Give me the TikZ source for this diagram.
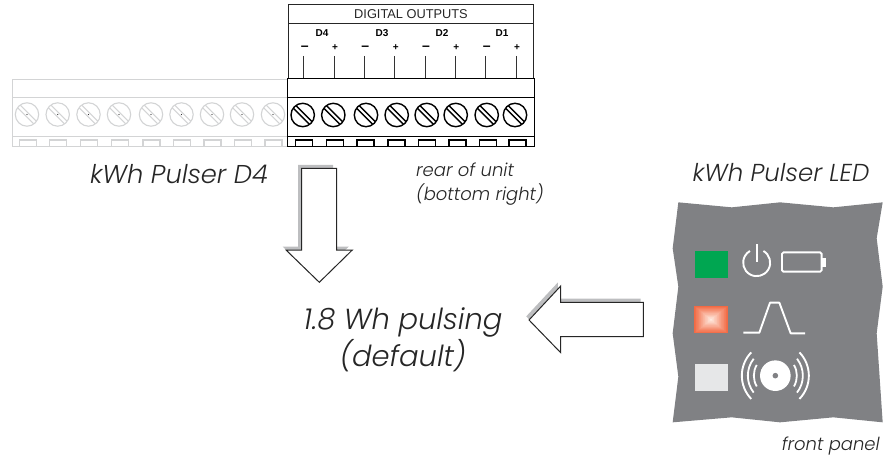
\documentclass[tikz,border=0pt]{standalone}
\usepackage{fontspec}
\setmainfont{Poppins}[ItalicFont={Poppins Light Italic}]
\newfontfamily\arialf{Liberation Sans}
\definecolor{panelgrey}{HTML}{808184}
\definecolor{fadegrey}{HTML}{D3D4D5}
\definecolor{shadowgrey}{HTML}{BDBEC0}
\definecolor{ledgreen}{HTML}{00A651}
\definecolor{ledorange}{HTML}{F26A44}
\definecolor{ledpale}{HTML}{FFEFE6}
\definecolor{ledgrey}{HTML}{E6E7E8}
\tikzset{
  caption/.style={inner sep=0pt, text=black!85, align=center},
  hugecap/.style={caption, font=\fontsize{29}{37}\selectfont\itshape},
  bigcap/.style={caption, font=\fontsize{24.5}{30}\selectfont\itshape},
  smallcap/.style={caption, font=\fontsize{18}{24}\selectfont\itshape},
  blockarrow/.style={fill=white, draw=black!85, line width=1pt, line join=miter},
  arrowshadow/.style={fill=shadowgrey},
  termtext/.style={font=\arialf\bfseries\fontsize{10}{11}\selectfont, inner sep=0pt},
  icon/.style={draw=white, line width=1.9pt},
}
\newcommand{\screwat}[4]{%
  \draw[#3, line width=#4pt] (#1,#2) circle[radius=11.7pt];
  \draw[#3, line width=#4pt] (#1,#2) ++(-9.2,-6.6) -- ++(15.8,15.8);
  \draw[#3, line width=#4pt] (#1,#2) ++(-6.6,-9.2) -- ++(15.8,15.8);
}
\begin{document}
\begin{tikzpicture}[x=1pt,y=-1pt]
\useasboundingbox (0,0) rectangle (885,460);
% faded strip
\draw[fadegrey, line width=1pt] (12.5,79) rectangle (287.5,146.5);
\draw[fadegrey, line width=1pt] (12.5,97.5) -- (287.5,97.5) (12.5,136) -- (287.5,136);
\foreach \x in {27,57.7,88.5,119,151,181.5,212,242,273}{
  \screwat{\x}{114.5}{fadegrey}{1.1}
  \fill[black!80] (\x,114.5) circle[radius=0.7pt];
}
\foreach \x in {28,58,89,120,151.5,182,212.5,243,273.5}{
  \draw[fadegrey, line width=1.6pt] (\x-8.5,140) rectangle (\x+8.5,146.5);
}
% output box
\draw[black!85, line width=1pt] (288.5,4.7) rectangle (533,78);
\draw[black!85, line width=1pt] (288.5,23.5) -- (533,23.5);
\node[font=\arialf\fontsize{12.8}{14}\selectfont, inner sep=0pt, text=black!85] (title) at (411,14) {DIGITAL OUTPUTS};
\foreach \lab/\x/\a/\b in {D4/322/303.7/334,D3/382/364.3/394.7,D2/442/425/455.3,D1/502/485.7/516}{
  \node[termtext] (\lab) at (\x,33) {\lab};
  \node[termtext, font=\arialf\bfseries\fontsize{14}{14}\selectfont] at (\a+1,48.5) {–};
  \node[termtext] at (\b+1,48) {+};
  \draw[black!80, line width=0.6pt] (\a,56) -- (\a,78);
  \draw[black!80, line width=0.6pt] (\b,56) -- (\b,78);
}
% terminal block
\draw[black, line width=1pt] (287.5,78.5) rectangle (534,146.5);
\draw[black, line width=1pt] (287.5,97.5) -- (534,97.5) (287.5,136) -- (534,136);
\foreach \x in {302.7,333.3,366,396.7,426.7,455.7,486.7,515}{
  \screwat{\x}{115}{black}{1.4}
}
\foreach \x in {304,335,365.7,396.7,427,457.7,488,517.7}{
  \draw[black, line width=1.5pt] (\x-8.5,140) rectangle (\x+8.5,146.5);
}
% captions
\node[bigcap, font=\fontsize{25.8}{30}\selectfont\itshape] (pulserd) at (179,174) {kWh Pulser D4};
\node[smallcap, align=left, anchor=west] (rear) at (416,184) {rear of unit\\(bottom right)};
\node[bigcap] (pulserled) at (781,173) {kWh Pulser LED};
\node[hugecap] (pulsing) at (403,339.5) {1.8 Wh pulsing\\(default)};
\node[smallcap, anchor=east] (front) at (880,446) {front panel};
% block arrows
\fill[arrowshadow, shift={(-3.5,-3.5)}] (301.7,168.3) -- (336.7,168.3) -- (336.7,250) -- (352.3,250) -- (319.3,282.3) -- (286,250) -- (301.7,250) -- cycle;
\draw[blockarrow] (301.7,168.3) -- (336.7,168.3) -- (336.7,250) -- (352.3,250) -- (319.3,282.3) -- (286,250) -- (301.7,250) -- cycle;
\fill[arrowshadow, shift={(-2.8,-3.6)}] (643.3,302.3) -- (560.7,302.3) -- (560.7,286) -- (529,320) -- (560.7,352.7) -- (560.7,336.7) -- (643.3,336.7) -- cycle;
\draw[blockarrow] (643.3,302.3) -- (560.7,302.3) -- (560.7,286) -- (529,320) -- (560.7,352.7) -- (560.7,336.7) -- (643.3,336.7) -- cycle;
% panel
\begin{scope}[shift={(660,190)},x=0.33333pt,y=-0.33333pt]
  \fill[panelgrey] (55,37) -- (215,52) -- (360,37) -- (520,52) -- (668,37)
    -- (650,145) -- (668,290) -- (650,430) -- (668,697)
    -- (520,682) -- (360,697) -- (215,682) -- (38,697)
    -- (55,560) -- (38,430) -- (55,290) -- (38,175) -- cycle;
  \fill[ledgreen] (105,183) rectangle (205,263);
  \fill[ledgrey] (105,523) rectangle (205,603);
  \foreach \i in {0,1,...,24}{
    \pgfmathsetmacro{\t}{\i/24}
    \pgfmathsetmacro{\mix}{100*\t}
    \fill[ledpale!\mix!ledorange] (103+50*\t,348+41*\t) rectangle (203-50*\t,430-41*\t);
  }
  % power icon
  \draw[icon] (290,162) -- (290,215);
  \draw[icon] ([shift={(60:13.5pt)}]290,218) arc[start angle=60, end angle=-240, radius=13.5pt];
  % battery
  \draw[icon, rounded corners=1.5pt] (366,187) rectangle (485,245);
  \fill[white] (487,203) rectangle (498,230);
  % pulse
  \draw[icon, line join=round] (250,428) -- (298,428) -- (330,338) -- (358,338) -- (392,430) -- (435,430);
  % disc
  \fill[white] (346,557) circle[radius=15.3pt];
  \fill[panelgrey] (346,557) circle[radius=2.8pt];
  \foreach \r/\w/\s in {21.5/1.8/30,27.5/1.8/38,33.5/1.9/44}{
    \draw[white, line width=\w pt] ([shift={({180-\s}:\r pt)}]346,557) arc[start angle={180-\s}, end angle={180+\s}, radius=\r pt];
    \draw[white, line width=\w pt] ([shift={(-\s:\r pt)}]346,557) arc[start angle=-\s, end angle=\s, radius=\r pt];
  }
\end{scope}
\end{tikzpicture}
\end{document}
